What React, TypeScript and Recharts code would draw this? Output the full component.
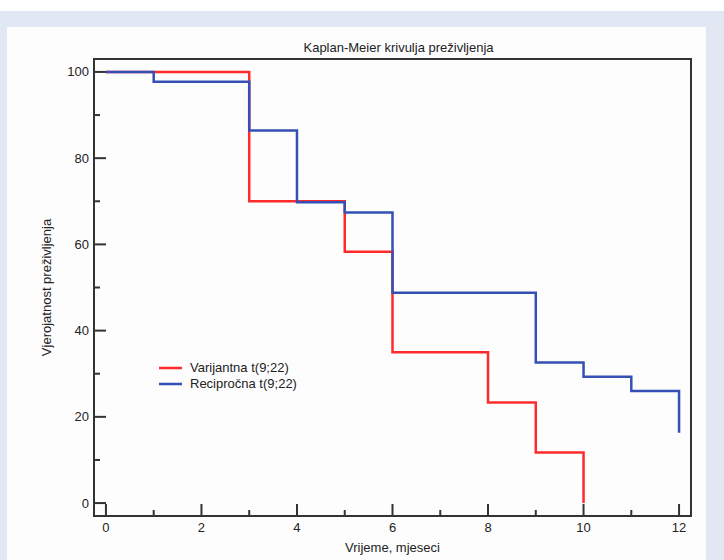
import { LineChart, Line, XAxis, YAxis, Legend, ReferenceArea } from 'recharts'

const seriesNames = ['Varijantna t(9;22)', 'Recipročna t(9;22)']
const redTimes = [0, 3, 5, 6, 8, 9, 10]
const redSurvival = [100, 70, 58.3, 35, 23.3, 11.7, 0]
const blueTimes = [0, 1, 3, 4, 5, 6, 9, 10, 11, 12]
const blueSurvival = [100, 97.7, 86.4, 69.8, 67.4, 48.8, 32.6, 29.3, 26, 16.3]
const xTicks = [0, 1, 2, 3, 4, 5, 6, 7, 8, 9, 10, 11, 12]
const yTicks = [0, 10, 20, 30, 40, 50, 60, 70, 80, 90, 100]

const redData = redTimes.map((t, i) => ({ t, s: redSurvival[i] }))
const blueData = blueTimes.map((t, i) => ({ t, s: blueSurvival[i] }))

const xDomain = [-0.25, 12.25]
const yDomain = [-3, 103]

const font = '"Liberation Sans", Arial, sans-serif'
const ink = '#333'

const XTick = (props: any) => {
  const { x, y, payload } = props
  const major = payload.value % 2 === 0
  return (
    <g>
      <line x1={x} x2={x} y1={y} y2={y - (major ? 12 : 6)} stroke={ink} strokeWidth={2} />
      {major && (
        <text x={x} y={y + 16} textAnchor="middle" fontSize={13} fontFamily={font} fill="#222">
          {payload.value}
        </text>
      )}
    </g>
  )
}

const YTick = (props: any) => {
  const { x, y, payload } = props
  const major = payload.value % 20 === 0
  return (
    <g>
      <line x1={x} x2={x + (major ? 12 : 6)} y1={y} y2={y} stroke={ink} strokeWidth={2} />
      {major && (
        <text x={x - 5} y={y} dy={4.5} textAnchor="end" fontSize={13} fontFamily={font} fill="#222">
          {payload.value}
        </text>
      )}
    </g>
  )
}

const renderLegend = (props: any) => {
  const items = seriesNames
    .map((n) => (props.payload || []).find((p: any) => p.value === n))
    .filter(Boolean)
  return (
    <div style={{ fontFamily: font, fontSize: 13, color: '#222', lineHeight: '16px' }}>
      {items.map((p: any) => (
        <div key={p.value} style={{ display: 'flex', alignItems: 'center', height: 16 }}>
          <svg width={33} height={16}>
            <line x1={2} x2={25} y1={8} y2={8} stroke={p.color} strokeWidth={2.5} />
          </svg>
          <span>{p.value}</span>
        </div>
      ))}
    </div>
  )
}

export default function App() {
  return (
    <div style={{ position: 'absolute', left: 0, top: 0, width: 724, height: 560, background: '#fff', overflow: 'hidden' }}>
      <div style={{ position: 'absolute', left: 0, top: 11, width: 724, height: 549, background: '#e1e8f4' }} />
      <div style={{ position: 'absolute', left: 7, top: 27, width: 699, height: 533, background: '#fdfdfe' }} />
      <div style={{ position: 'absolute', left: 0, top: 0 }}>
        <LineChart width={724} height={560} margin={{ top: 59, right: 33, left: 34, bottom: 4 }}>
          <XAxis
            dataKey="t"
            type="number"
            domain={xDomain}
            ticks={xTicks}
            interval={0}
            tickSize={0}
            tickMargin={0}
            tickLine={false}
            tick={<XTick />}
            height={40}
            axisLine={{ stroke: ink, strokeWidth: 2 }}
            allowDataOverflow
            label={{ value: 'Vrijeme, mjeseci', position: 'insideBottom', offset: 4, fontSize: 13, fontFamily: font, fill: '#222' }}
          />
          <YAxis
            type="number"
            domain={yDomain}
            ticks={yTicks}
            interval={0}
            tickSize={0}
            tickMargin={0}
            tickLine={false}
            tick={<YTick />}
            width={60}
            axisLine={{ stroke: ink, strokeWidth: 2 }}
            allowDataOverflow
            label={{ value: 'Vjerojatnost preživljenja', angle: -90, position: 'insideLeft', offset: 12, style: { textAnchor: 'middle' }, fontSize: 13, fontFamily: font, fill: '#222' }}
          />
          {/* plot frame + title */}
          <ReferenceArea
            x1={xDomain[0]}
            x2={xDomain[1]}
            y1={yDomain[0]}
            y2={yDomain[1]}
            fill="none"
            stroke={ink}
            strokeWidth={2}
            ifOverflow="visible"
            label={{ value: 'Kaplan-Meier krivulja preživljenja', position: 'top', offset: 7, dx: 6, fontSize: 13, fontFamily: font, fill: '#222' }}
          />
          <Legend
            layout="vertical"
            align="center"
            verticalAlign="middle"
            content={renderLegend}
            wrapperStyle={{ left: 157, top: 360, width: 200 }}
          />
          <Line
            data={redData}
            dataKey="s"
            name={seriesNames[0]}
            type="stepAfter"
            stroke="#ff2b2b"
            strokeWidth={2.5}
            dot={false}
            activeDot={false}
            isAnimationActive={false}
          />
          <Line
            data={blueData}
            dataKey="s"
            name={seriesNames[1]}
            type="stepAfter"
            stroke="#3450b4"
            strokeWidth={2.5}
            dot={false}
            activeDot={false}
            isAnimationActive={false}
          />
        </LineChart>
      </div>
    </div>
  )
}
